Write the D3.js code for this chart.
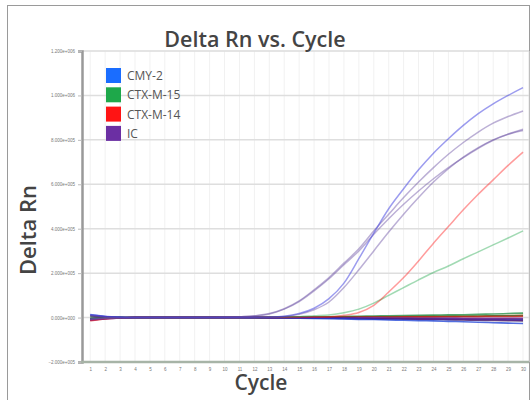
<!DOCTYPE html>
<html>
<head>
<meta charset="utf-8">
<script src="https://cdn.jsdelivr.net/npm/d3@7"></script>
<style>
  body { margin: 0; background: #fff; }
  svg { display: block; font-family: "Open Sans", sans-serif; }
</style>
</head>
<body>
<div id="chart"></div>
<script>
// cycles 1..30
const cycles = [1,2,3,4,5,6,7,8,9,10,11,12,13,14,15,16,17,18,19,20,21,22,23,24,25,26,27,28,29,30];
const yTicks = [-200000, 0, 200000, 400000, 600000, 800000, 1000000, 1200000];

const legendNames = ["CMY-2", "CTX-M-15", "CTX-M-14", "IC"];
const legendColors = ["#1a6dff", "#1ea84a", "#ff1414", "#6b2fa3"];

// amplified wells (values in thousands of Delta Rn)
const cmy2Amp  = [14,6,2,0,0,0,0,0,0,0,0,1,2,6,18,42,85,155,265,380,490,580,665,740,805,865,918,962,1000,1035];
const icAmp1   = [-6,-2,-1,0,0,0,0,0,0,1,3,8,18,40,75,125,180,245,310,390,465,540,610,675,735,788,835,875,905,930];
const icAmp2   = [-9,-3,-1,0,0,0,0,0,0,1,3,7,16,38,72,120,175,238,300,375,445,510,570,625,675,720,762,798,826,848];
const icAmp3   = [10,4,1,0,0,0,0,0,0,0,0,0,2,5,15,35,70,135,215,300,385,465,540,610,670,722,765,800,825,842];
const ctx14Amp = [-12,-5,-1,0,0,0,0,0,0,0,0,0,0,0,0,1,3,10,23,55,115,180,255,335,410,485,555,620,685,745];
const ctx15Amp = [-4,-2,0,0,0,0,0,0,0,0,0,0,1,2,4,8,12,22,38,65,100,135,170,203,232,265,296,327,358,390];

// negative / flat wells
const flatBlue1   = [-8,-4,-1,0,0,0,0,0,0,0,0,-1,-1,-2,-3,-4,-5,-6,-8,-9,-11,-12,-14,-15,-17,-19,-21,-23,-25,-27];
const flatBlue2   = [12,5,2,0,0,0,0,0,0,0,0,0,0,0,-1,-1,-2,-2,-3,-3,-4,-4,-5,-5,-6,-6,-7,-7,-8,-8];
const flatGreen1  = [4,2,1,0,0,0,0,0,0,0,0,1,1,2,2,3,4,5,6,7,8,9,10,11,12,13,15,16,18,20];
const flatGreen2  = [-5,-2,-1,0,0,0,0,0,0,0,0,0,0,1,1,1,2,2,3,3,4,4,5,5,6,6,7,8,8,9];
const flatRed1    = [-14,-6,-2,0,0,0,0,0,0,0,0,0,0,0,0,1,1,1,2,2,2,3,3,3,4,4,4,5,5,6];
const flatRed2    = [-10,-4,-1,0,0,0,0,0,0,0,0,0,0,-1,-1,-1,-2,-2,-2,-3,-3,-3,-4,-4,-4,-5,-5,-6,-6,-7];
const flatOrange  = [-6,-3,-1,0,0,0,0,0,0,0,0,0,1,1,1,2,2,3,3,4,4,5,5,6,6,7,7,8,9,10];
const flatPurple1 = [8,3,1,0,0,0,0,0,0,0,0,0,-1,-1,-2,-2,-3,-3,-4,-5,-5,-6,-7,-7,-8,-9,-10,-10,-11,-12];
const flatPurple2 = [-12,-5,-2,0,0,0,0,0,0,0,0,0,0,0,0,0,-1,-1,-1,-1,-2,-2,-2,-2,-2,-3,-3,-3,-3,-3];
const flatDark    = [-3,-1,0,0,0,0,0,0,0,0,0,0,-1,-1,-2,-3,-3,-4,-5,-6,-6,-7,-8,-9,-10,-11,-12,-13,-14,-15];

const W = 532, H = 400;
const plot = { left: 82, right: 529, top: 51, bottom: 362 };

const svg = d3.select("#chart").append("svg")
  .attr("width", W)
  .attr("height", H);

// outer frame
svg.append("rect")
  .attr("x", 7.5).attr("y", 5.5)
  .attr("width", 522).attr("height", 410)
  .attr("fill", "none")
  .attr("stroke", "#9a9a9a")
  .attr("stroke-width", 1);

const x = d3.scaleLinear().domain([0.45, 30.4]).range([plot.left, plot.right]);
const y = d3.scaleLinear().domain([-200000, 1200000]).range([plot.bottom, plot.top]);

// vertical grid
svg.append("g")
  .selectAll("line")
  .data(cycles)
  .join("line")
  .attr("x1", d => x(d)).attr("x2", d => x(d))
  .attr("y1", plot.top).attr("y2", plot.bottom)
  .attr("stroke", "#f1f1f1")
  .attr("stroke-width", 1);

// horizontal grid
svg.append("g")
  .selectAll("line")
  .data(yTicks)
  .join("line")
  .attr("x1", plot.left).attr("x2", plot.right)
  .attr("y1", d => y(d)).attr("y2", d => y(d))
  .attr("stroke", "#dedede")
  .attr("stroke-width", 1.5);

// right / top border of plot
svg.append("path")
  .attr("d", `M${plot.left},${plot.top}H${plot.right}V${plot.bottom}`)
  .attr("fill", "none")
  .attr("stroke", "#e2e2e2")
  .attr("stroke-width", 1);

// axes
const yAxis = svg.append("g")
  .attr("transform", `translate(${plot.left},0)`)
  .call(d3.axisLeft(y).tickValues(yTicks).tickSize(4).tickPadding(3)
    .tickFormat(d => {
      const s = d3.format(".3e")(d);
      const [m, e] = s.split("e");
      const sign = e[0] === "-" ? "-" : "+";
      return m + "e" + sign + e.replace(/[+-]/, "").padStart(3, "0");
    }));
yAxis.select(".domain").attr("stroke", "#999").attr("stroke-width", 2.5);
yAxis.selectAll(".tick line").attr("stroke", "#bbb");
yAxis.selectAll(".tick text").attr("fill", "#777").style("font-size", "4.5px");

const xAxis = svg.append("g")
  .attr("transform", `translate(0,${plot.bottom})`)
  .call(d3.axisBottom(x).tickValues(cycles).tickSize(0).tickPadding(6).tickFormat(d3.format("d")));
xAxis.select(".domain").remove();
xAxis.selectAll(".tick text").attr("fill", "#777").style("font-size", "4.5px");

svg.append("line")
  .attr("x1", plot.left - 1).attr("x2", plot.right)
  .attr("y1", plot.bottom).attr("y2", plot.bottom)
  .attr("stroke", "#a7b4a7")
  .attr("stroke-width", 2.5);

// lines
const line = d3.line()
  .x((d, i) => x(cycles[i]))
  .y(d => y(d * 1000))
  .curve(d3.curveMonotoneX);

const flatWells = [
  { v: flatOrange, c: "#d2691e" },
  { v: flatGreen1, c: "#1b8a3c" },
  { v: flatGreen2, c: "#2e6b2e" },
  { v: flatRed1, c: "#d41c1c" },
  { v: flatRed2, c: "#8b1a1a" },
  { v: flatBlue2, c: "#2a4fd0" },
  { v: flatPurple2, c: "#7a2a9a" },
  { v: flatDark, c: "#3b1a5a" },
  { v: flatPurple1, c: "#5a1f8c" },
  { v: flatBlue1, c: "#1a3fd6" }
];

svg.append("g")
  .selectAll("path")
  .data(flatWells)
  .join("path")
  .attr("d", d => line(d.v))
  .attr("fill", "none")
  .attr("stroke", d => d.c)
  .attr("stroke-opacity", 0.75)
  .attr("stroke-width", 1.6);

const ampWells = [
  { v: ctx15Amp, c: legendColors[1], o: 0.42 },
  { v: ctx14Amp, c: legendColors[2], o: 0.42 },
  { v: icAmp3, c: "#6b4fa3", o: 0.45 },
  { v: icAmp2, c: "#6b4fa3", o: 0.45 },
  { v: icAmp1, c: "#6b4fa3", o: 0.45 },
  { v: cmy2Amp, c: "#3a3ae0", o: 0.5 }
];

svg.append("g")
  .selectAll("path")
  .data(ampWells)
  .join("path")
  .attr("d", d => line(d.v))
  .attr("fill", "none")
  .attr("stroke", d => d.c)
  .attr("stroke-opacity", d => d.o)
  .attr("stroke-width", 1.5);

// legend
const legend = svg.append("g").attr("transform", "translate(106,68)");
legendNames.forEach((name, i) => {
  const g = legend.append("g").attr("transform", `translate(0,${i * 19.3})`);
  g.append("rect")
    .attr("width", 15).attr("height", 15)
    .attr("fill", legendColors[i]);
  g.append("text")
    .attr("x", 21).attr("y", 12)
    .attr("fill", "#555")
    .style("font-size", "12px")
    .text(name);
});

// titles
svg.append("text")
  .attr("x", 255).attr("y", 47)
  .attr("text-anchor", "middle")
  .attr("fill", "#444")
  .style("font-size", "21.5px")
  .style("font-weight", 600)
  .text("Delta Rn vs. Cycle");

svg.append("text")
  .attr("transform", "translate(36,230) rotate(-90)")
  .attr("text-anchor", "middle")
  .attr("fill", "#444")
  .style("font-size", "22px")
  .style("font-weight", 600)
  .text("Delta Rn");

svg.append("text")
  .attr("x", 261).attr("y", 390)
  .attr("text-anchor", "middle")
  .attr("fill", "#444")
  .style("font-size", "21px")
  .style("font-weight", 600)
  .text("Cycle");
</script>
</body>
</html>
